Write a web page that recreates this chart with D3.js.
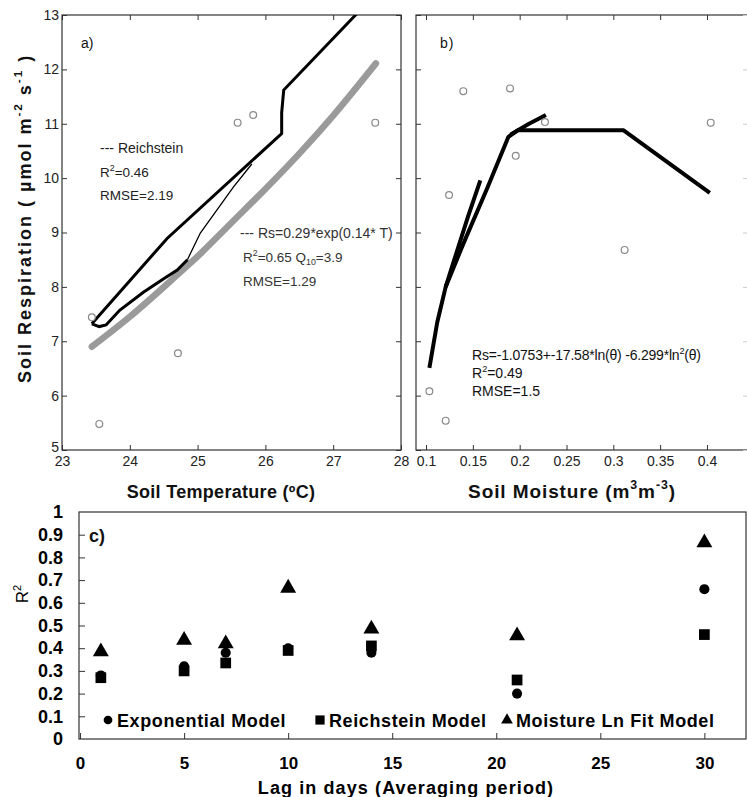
<!DOCTYPE html>
<html><head><meta charset="utf-8">
<script src="https://cdn.jsdelivr.net/npm/d3@7/dist/d3.min.js"></script>
<style>body{margin:0;background:#fff}svg{display:block}text{font-family:"Liberation Sans",Arial,sans-serif}</style>
</head><body><svg id="c" width="747" height="797"></svg>
<script>
// ---- Panel a data (soil temperature) ----
const tempObs = [[23.44,7.44],[23.55,5.48],[24.71,6.78],[25.59,11.02],[25.82,11.16],[27.62,11.02]];
const tempExpFit = [[23.44,6.9],[24.0,7.45],[24.7,8.22],[25.0,8.56],[25.5,9.18],[26.0,9.8],[26.5,10.45],[27.0,11.15],[27.63,12.11]];
const reichLower = [[23.44,7.32],[23.55,7.27],[23.65,7.3],[23.85,7.57],[24.2,7.9],[24.5,8.15],[24.7,8.31],[24.85,8.5]];
const reichThin = [[24.85,8.5],[25.04,8.99],[25.53,9.84],[25.8,10.26]];
const reichUpper = [[23.44,7.32],[24.55,8.89],[26.24,10.82],[26.24,11.2],[26.27,11.62],[27.33,13.0],[27.6,13.35]];
// ---- Panel b data (soil moisture) ----
const moistObs = [[0.1398,11.6],[0.1897,11.65],[0.227,11.03],[0.404,11.02],[0.1958,10.41],[0.1246,9.69],[0.312,8.68],[0.1036,6.08],[0.121,5.54]];
const moistFitA = [[0.1036,6.51],[0.112,7.35],[0.121,8.0],[0.132,8.6],[0.145,9.3],[0.158,9.96]];
const moistFitB = [[0.121,8.0],[0.14,8.8],[0.165,9.8],[0.188,10.76],[0.198,10.88],[0.311,10.88],[0.403,9.73]];
const moistFitC = [[0.19,10.8],[0.21,11.0],[0.228,11.16]];
// ---- Panel c data ----
const lagDays = [1,5,7,10,14,21,30];
const r2Exponential = [0.28,0.32,0.38,0.40,0.38,0.20,0.66];
const r2Reichstein = [0.27,0.30,0.335,0.39,0.41,0.26,0.46];
const r2Moisture = [0.385,0.435,0.42,0.665,0.485,0.455,0.865];
const tempTicks = [23,24,25,26,27,28];
const moistTicks = [0.1,0.15,0.2,0.25,0.3,0.35,0.4];
const respTicks = [5,6,7,8,9,10,11,12,13];
const lagTicks = [0,5,10,15,20,25,30];
const r2Ticks = [0,0.1,0.2,0.3,0.4,0.5,0.6,0.7,0.8,0.9,1];

const svg = d3.select("#c");
const defs = svg.append("defs");

// scales
const xA = d3.scaleLinear().domain([23,28]).range([62,401]);
const yA = d3.scaleLinear().domain([5,13]).range([450,15]);
const xB = d3.scaleLinear().domain([0.0893,0.4438]).range([416,748]);
const yB = d3.scaleLinear().domain([5,13]).range([450,15]);
const xC = d3.scaleLinear().domain([-0.05,32]).range([79,746]);
const yC = d3.scaleLinear().domain([0,1]).range([739,512]);

function clip(id,x0,y0,x1,y1){defs.append("clipPath").attr("id",id).append("rect").attr("x",x0).attr("y",y0).attr("width",x1-x0).attr("height",y1-y0);}
clip("ca",62,15,401,450); clip("cb",416,15,748,450);

function frame(x0,y0,x1,y1){svg.append("rect").attr("x",x0).attr("y",y0).attr("width",x1-x0).attr("height",y1-y0).attr("fill","none").attr("stroke","#333").attr("stroke-width",1.2);}

function styleAxis(g,fs,weight,col){
  g.select(".domain").remove();
  g.selectAll(".tick line").attr("stroke","#333");
  g.selectAll(".tick text").attr("font-size",fs).attr("font-weight",weight).attr("fill",col).attr("font-family","Liberation Sans, Arial, sans-serif");
}

// rich text: parts = [[text, "n"|"sup"|"sub"], ...]; dy in px so the baseline returns exactly
function rich(x,y,parts,fs,opts={}){
  const t=svg.append("text").attr("x",x).attr("y",y).attr("font-size",fs).attr("fill",opts.fill||"#111").attr("font-weight",opts.weight||"normal");
  if(opts.anchor)t.attr("text-anchor",opts.anchor);
  if(opts.ls!==undefined)t.attr("letter-spacing",opts.ls);
  if(opts.transform)t.attr("transform",opts.transform);
  const off={n:0,sup:-fs*(opts.raise||0.42),sub:fs*0.25};
  let cur=0;
  parts.forEach(([s,k])=>{const o=off[k];const ts=t.append("tspan").attr("dy",o-cur).text(s);if(k!=="n")ts.attr("font-size",fs*0.65);cur=o;});
  return t;
}
function txt(x,y,s,fs,opts={}){return rich(x,y,[[s,"n"]],fs,opts);}

// ---------- Panel a ----------
frame(62,15,401,450);
let g = svg.append("g").attr("transform","translate(0,450)").call(d3.axisBottom(xA).tickValues(tempTicks).tickSize(-5).tickPadding(6).tickFormat(d3.format("d")));
styleAxis(g,14,"normal","#222");
g = svg.append("g").attr("transform","translate(62,0)").call(d3.axisLeft(yA).tickValues(respTicks).tickSize(-5).tickPadding(3).tickFormat(d3.format("d")));
styleAxis(g,14,"normal","#222");
g.selectAll(".tick").filter(d=>d===5).select("text").attr("dy","0.1em");
g = svg.append("g").attr("transform","translate(0,15)").call(d3.axisTop(xA).tickValues(tempTicks).tickSize(-5).tickFormat(""));
styleAxis(g,14,"normal","#222");
g = svg.append("g").attr("transform","translate(401,0)").call(d3.axisRight(yA).tickValues(respTicks).tickSize(-5).tickFormat(""));
styleAxis(g,14,"normal","#222");

const lineA = d3.line().x(d=>xA(d[0])).y(d=>yA(d[1]));
const pa = svg.append("g").attr("clip-path","url(#ca)");
pa.append("path").attr("d",d3.line().x(d=>xA(d[0])).y(d=>yA(d[1])).curve(d3.curveMonotoneX)(tempExpFit)).attr("fill","none").attr("stroke","#9a9a9a").attr("stroke-width",6.5).attr("stroke-linecap","round");
pa.append("path").attr("d",lineA(reichUpper)).attr("fill","none").attr("stroke","#000").attr("stroke-width",3);
pa.append("path").attr("d",lineA(reichLower)).attr("fill","none").attr("stroke","#000").attr("stroke-width",3);
pa.append("path").attr("d",lineA(reichThin)).attr("fill","none").attr("stroke","#000").attr("stroke-width",1.3);
pa.selectAll("circle").data(tempObs).join("circle").attr("cx",d=>xA(d[0])).attr("cy",d=>yA(d[1])).attr("r",3.4).attr("fill","#fff").attr("stroke","#888").attr("stroke-width",1.2);

txt(81,48,"a)",14);
txt(100,153,"--- Reichstein",14,{fill:"#222"});
rich(100,177,[["R","n"],["2","sup"],["=0.46","n"]],13.5,{fill:"#222"});
txt(100,200,"RMSE=2.19",13.5,{fill:"#222"});
txt(240,238,"--- Rs=0.29*exp(0.14* T)",14,{fill:"#333"});
rich(243,262,[["R","n"],["2","sup"],["=0.65   Q","n"],["10","sub"],["=3.9","n"]],13.5,{fill:"#333"});
txt(243,286,"RMSE=1.29",13.5,{fill:"#333"});

// ---------- Panel b ----------
frame(416,15,748,450);
g = svg.append("g").attr("transform","translate(0,450)").call(d3.axisBottom(xB).tickValues(moistTicks).tickSize(-5).tickPadding(6).tickFormat(d=>String(+d.toFixed(2))));
styleAxis(g,14,"normal","#222");
g = svg.append("g").attr("transform","translate(416,0)").call(d3.axisLeft(yB).tickValues(respTicks).tickSize(-5).tickFormat(""));
styleAxis(g,14,"normal","#222");
g = svg.append("g").attr("transform","translate(0,15)").call(d3.axisTop(xB).tickValues(moistTicks).tickSize(-5).tickFormat(""));
styleAxis(g,14,"normal","#222");
g = svg.append("g").attr("transform","translate(747,0)").call(d3.axisRight(yB).tickValues(respTicks).tickSize(-4).tickFormat(""));
styleAxis(g,14,"normal","#222"); g.selectAll(".tick line").attr("stroke","#ccc");

const lineB = d3.line().x(d=>xB(d[0])).y(d=>yB(d[1]));
const pb = svg.append("g").attr("clip-path","url(#cb)");
[moistFitA,moistFitB,moistFitC].forEach(a=>pb.append("path").attr("d",lineB(a)).attr("fill","none").attr("stroke","#000").attr("stroke-width",4).attr("stroke-linejoin","round"));
pb.selectAll("circle").data(moistObs).join("circle").attr("cx",d=>xB(d[0])).attr("cy",d=>yB(d[1])).attr("r",3.4).attr("fill","#fff").attr("stroke","#888").attr("stroke-width",1.2);

txt(440,48,"b)",14,{ls:1});
rich(472,360,[["Rs=-1.0753+-17.58*ln(θ) -6.299*ln","n"],["2","sup"],["(θ)","n"]],14,{fill:"#111",ls:-0.2});
rich(472,378,[["R","n"],["2","sup"],["=0.49","n"]],14,{fill:"#111"});
txt(472,396,"RMSE=1.5",14,{fill:"#111"});

// axis titles a/b
rich(0,0,[["Soil Respiration ( µmol m","n"],["-2","sup"],[" s","n"],["-1","sup"],[" )","n"]],18,{weight:"bold",ls:2,raise:0.5,transform:"translate(31,383) rotate(-90)"});
txt(221,498,"Soil Temperature (ºC)",18,{weight:"bold",anchor:"middle",ls:0.3});
rich(572,498,[["Soil Moisture (m","n"],["3","sup"],["m","n"],["-3","sup"],[")","n"]],19,{weight:"bold",anchor:"middle",ls:0.9,raise:0.5});

// ---------- Panel c ----------
frame(79,512,746,739);
g = svg.append("g").attr("transform","translate(79,0)").call(d3.axisLeft(yC).tickValues(r2Ticks).tickSize(-6).tickPadding(16).tickFormat(d=>String(d)));
styleAxis(g,18,"bold","#000");
g.selectAll(".tick").filter(d=>d===0||d===1).select("line").remove();
g = svg.append("g").attr("transform","translate(0,739)").call(d3.axisBottom(xC).tickValues(lagTicks).tickSize(-6).tickPadding(18).tickFormat(d3.format("d")));
styleAxis(g,17,"bold","#000");

const sym = {circle:d3.symbol().type(d3.symbolCircle).size(80), square:d3.symbol().type(d3.symbolSquare).size(115), triangle:d3.symbol().type(d3.symbolTriangle).size(110)};
function plotSeries(vals,shape){
  svg.append("g").selectAll("path").data(lagDays.map((d,i)=>[d,vals[i]])).join("path")
    .attr("transform",d=>`translate(${xC(d[0])},${yC(d[1])})`).attr("d",sym[shape]()).attr("fill","#000");
}
plotSeries(r2Reichstein,"square");
plotSeries(r2Exponential,"circle");
plotSeries(r2Moisture,"triangle");

txt(89,542,"c)",18,{weight:"bold"});
const legend = [["circle","Exponential Model",108],["square","Reichstein Model",320],["triangle","Moisture Ln Fit Model",507]];
const legSym = {circle:d3.symbol().type(d3.symbolCircle).size(60)(), square:d3.symbol().type(d3.symbolSquare).size(85)(), triangle:d3.symbol().type(d3.symbolTriangle).size(60)()};
legend.forEach(([s,l,x])=>{
  svg.append("path").attr("transform",`translate(${x},720)`).attr("d",legSym[s]).attr("fill","#000");
  txt(x+9,727,l,18,{weight:"bold",fill:"#000",ls:0.6});
});
rich(0,0,[["R","n"],["2","sup"]],17,{anchor:"middle",fill:"#000",transform:"translate(28,594) rotate(-90)"});
txt(406,794,"Lag in days (Averaging period)",18,{weight:"bold",anchor:"middle",fill:"#000",ls:1.1});
</script></body></html>
